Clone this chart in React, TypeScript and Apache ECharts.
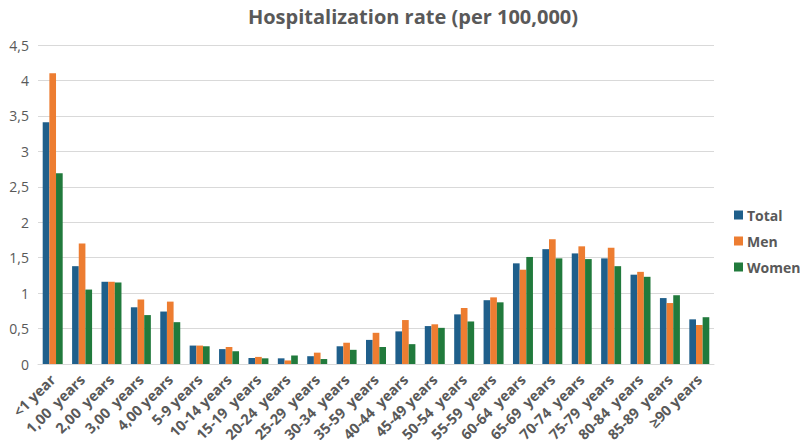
import React, { useEffect, useRef } from "react";
import * as echarts from "echarts";

const categories = [
  "<1 year", "1,00  years", "2,00  years", "3,00  years", "4,00 years", "5-9 years",
  "10-14 years", "15-19  years", "20-24  years", "25-29  years", "30-34  years",
  "35-59  years", "40-44  years", "45-49 years", "50-54  years", "55-59  years",
  "60-64  years", "65-69  years", "70-74  years", "75-79  years", "80-84  years",
  "85-89  years", "≥90 years",
];
const total = [3.41, 1.38, 1.16, 0.8, 0.74, 0.26, 0.21, 0.085, 0.08, 0.11, 0.25, 0.34, 0.46, 0.535, 0.7, 0.9, 1.42, 1.62, 1.56, 1.49, 1.26, 0.93, 0.63];
const men = [4.1, 1.7, 1.16, 0.91, 0.88, 0.26, 0.24, 0.1, 0.05, 0.16, 0.3, 0.44, 0.62, 0.56, 0.79, 0.94, 1.33, 1.76, 1.66, 1.64, 1.3, 0.86, 0.55];
const women = [2.69, 1.05, 1.15, 0.69, 0.59, 0.25, 0.18, 0.08, 0.12, 0.07, 0.2, 0.24, 0.28, 0.51, 0.6, 0.87, 1.51, 1.49, 1.48, 1.38, 1.23, 0.97, 0.66];

export default function App() {
  const ref = useRef<HTMLDivElement>(null);
  useEffect(() => {
    document.body.style.margin = "0";
    const chart = echarts.init(ref.current!, null, { renderer: "svg" });
    const font = "'Open Sans', sans-serif";
    chart.setOption({
      animation: false,
      title: {
        text: "Hospitalization rate (per 100,000)",
        left: 408,
        textAlign: "center",
        top: 1,
        textStyle: { fontFamily: font, fontSize: 20, fontWeight: "bold", color: "#595959" },
      },
      legend: {
        orient: "vertical",
        left: 729,
        top: 203,
        itemWidth: 9,
        itemHeight: 9,
        itemGap: 12,
        itemStyle: { borderWidth: 0 },
        icon: "rect",
        textStyle: { fontFamily: font, fontSize: 14, fontWeight: "bold", color: "#595959", padding: [0, 0, 0, -1] },
        data: ["Total", "Men", "Women"],
      },
      grid: { left: 38, right: 86, top: 45, bottom: 84 },
      xAxis: {
        type: "category",
        data: categories,
        axisLine: { lineStyle: { color: "#d9d9d9" } },
        axisTick: { show: false },
        axisLabel: {
          rotate: 45,
          interval: 0,
          fontFamily: font,
          fontSize: 14.5,
          fontWeight: "bold",
          color: "#595959",
          margin: 13,
        },
      },
      yAxis: {
        type: "value",
        min: 0,
        max: 4.5,
        interval: 0.5,
        axisLine: { show: false },
        axisTick: { show: false },
        splitLine: { lineStyle: { color: "#d9d9d9" } },
        axisLabel: {
          fontFamily: font,
          fontSize: 14,
          color: "#595959",
          margin: 9,
          formatter: (v: number) => String(v).replace(".", ","),
        },
      },
      series: [
        { name: "Total", type: "bar", data: total, itemStyle: { color: "#1F5F8B" }, barGap: "0%", barCategoryGap: "32%" },
        { name: "Men", type: "bar", data: men, itemStyle: { color: "#ED7D31" }, barGap: "0%", barCategoryGap: "32%" },
        { name: "Women", type: "bar", data: women, itemStyle: { color: "#217A3C" }, barGap: "0%", barCategoryGap: "32%" },
      ],
    });
    return () => chart.dispose();
  }, []);
  return <div ref={ref} style={{ width: 800, height: 448 }} />;
}
